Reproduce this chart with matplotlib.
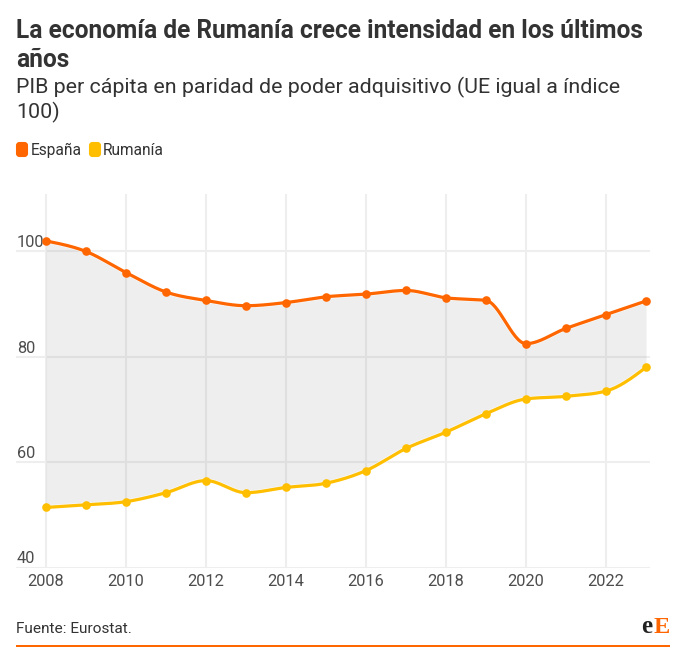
import matplotlib
matplotlib.use('Agg')
import matplotlib.pyplot as plt
import matplotlib.patheffects as pe
from matplotlib.patches import FancyBboxPatch, Rectangle
import numpy as np

plt.rcParams['font.family'] = ['Roboto', 'DejaVu Sans']

years = np.arange(2008, 2024)
espana = [102.0, 100.0, 96.0, 92.3, 90.7, 89.7, 90.3, 91.4, 91.9, 92.6, 91.2, 90.7, 82.5, 85.4, 88.0, 90.6]
rumania = [51.4, 51.9, 52.5, 54.2, 56.5, 54.2, 55.2, 56.0, 58.4, 62.6, 65.7, 69.2, 72.0, 72.5, 73.5, 78.0]
y_ticks = [40, 60, 80, 100]
x_ticks = [2008, 2010, 2012, 2014, 2016, 2018, 2020, 2022]

C_ES = '#ff6600'
C_RO = '#ffbf00'
C_TEXT = '#333333'
C_TICK = '#4d4d4d'
C_GRID = '#eeeeee'

W, H = 680, 661


def monotone(x, y, n=30):
    # same idea as d3 curveMonotoneX, only for drawing the line between the points
    x = np.asarray(x, float)
    y = np.asarray(y, float)
    h = np.diff(x)
    s = np.diff(y) / h
    m = np.zeros_like(y)
    for i in range(1, len(y) - 1):
        p = (s[i - 1] * h[i] + s[i] * h[i - 1]) / (h[i - 1] + h[i])
        m[i] = (np.sign(s[i - 1]) + np.sign(s[i])) * min(abs(s[i - 1]), abs(s[i]), 0.5 * abs(p))
    m[0] = (3 * s[0] - m[1]) / 2
    m[-1] = (3 * s[-1] - m[-2]) / 2
    xs, ys = [], []
    for i in range(len(x) - 1):
        t = np.linspace(0, 1, n, endpoint=False)
        xs.append(x[i] + t * h[i])
        ys.append((2*t**3 - 3*t**2 + 1) * y[i] + (t**3 - 2*t**2 + t) * h[i] * m[i]
                  + (-2*t**3 + 3*t**2) * y[i + 1] + (t**3 - t**2) * h[i] * m[i + 1])
    xs.append([x[-1]])
    ys.append([y[-1]])
    return np.concatenate(xs), np.concatenate(ys)


fig = plt.figure(figsize=(W / 100, H / 100), dpi=100)
fig.patch.set_facecolor('white')

# plot area in pixels: left 16, right 650, top 194, bottom 567.5
ax = fig.add_axes([16 / W, 1 - 567.5 / H, 634 / W, 373.5 / H])
ax.set_xlim(2008 - 30 / 40, 2008 + 604 / 40)
ax.set_ylim(40, 40 + 373.5 / 5.267)
ax.patch.set_alpha(0)
for s in ax.spines.values():
    s.set_visible(False)

ax.set_xticks(x_ticks)
ax.set_yticks(y_ticks)
ax.set_xticklabels([str(v) for v in x_ticks], fontsize=11.8, color=C_TICK)
ax.set_yticklabels([])
ax.tick_params(length=0, pad=5)
ax.grid(True, color=C_GRID, lw=1.5, zorder=1)
ax.set_axisbelow(True)
for v in y_ticks:
    ax.text(2007.27, v + 0.2, str(v), fontsize=11.8, color=C_TICK, ha='left', va='bottom',
            zorder=2)

xs, es_y = monotone(years, espana)
_, ro_y = monotone(years, rumania)
ax.fill_between(xs, ro_y, es_y, color='#808080', alpha=0.13, lw=0, zorder=2)

halo = [pe.withStroke(linewidth=3.4, foreground='white', alpha=0.6)]
for vals, col, line in ((espana, C_ES, es_y), (rumania, C_RO, ro_y)):
    ax.plot(xs, line, color=col, lw=2.3, zorder=3, clip_on=False, solid_capstyle='round',
            path_effects=halo)
    ax.plot(years, vals, 'o', color=col, ms=6.2, mew=0, zorder=4, clip_on=False)

fig.text(16 / W, 1 - 38 / H, 'La economía de Rumanía crece intensidad en los últimos',
         fontsize=17.66, fontweight='bold', color=C_TEXT, va='baseline')
fig.text(16 / W, 1 - 67 / H, 'años', fontsize=17.66, fontweight='bold', color=C_TEXT, va='baseline')
fig.text(16 / W, 1 - 93 / H, 'PIB per cápita en paridad de poder adquisitivo (UE igual a índice',
         fontsize=15.38, color=C_TEXT, va='baseline')
fig.text(16 / W, 1 - 118 / H, '100)', fontsize=15.38, color=C_TEXT, va='baseline')

# legend
for x0, col, label, tx in ((16, C_ES, 'España', 31), (89, C_RO, 'Rumanía', 103)):
    fig.add_artist(FancyBboxPatch((x0 + 1, H - 156), 10, 13, boxstyle='round,pad=0,rounding_size=2.5',
                                  mutation_aspect=1, transform=None, fc=col, ec=col, lw=1.5))
    fig.text(tx / W, 1 - 155 / H, label, fontsize=11.2, color=C_TEXT, va='baseline')

# footer
fig.text(16 / W, 1 - 633 / H, 'Fuente: Eurostat.', fontsize=11.05, color=C_TEXT, va='baseline')
fig.add_artist(Rectangle((16, H - 647), 654, 2, transform=None, fc=C_ES, ec='none'))
fig.text(641.5 / W, 1 - 633 / H, 'e', fontsize=18, fontweight='bold', family='Liberation Serif',
         color='#222222', va='baseline')
fig.text(654 / W, 1 - 633 / H, 'E', fontsize=17.5, fontweight='bold', family='Liberation Serif',
         color=C_ES, va='baseline')

fig.savefig('out.png', dpi=100)
